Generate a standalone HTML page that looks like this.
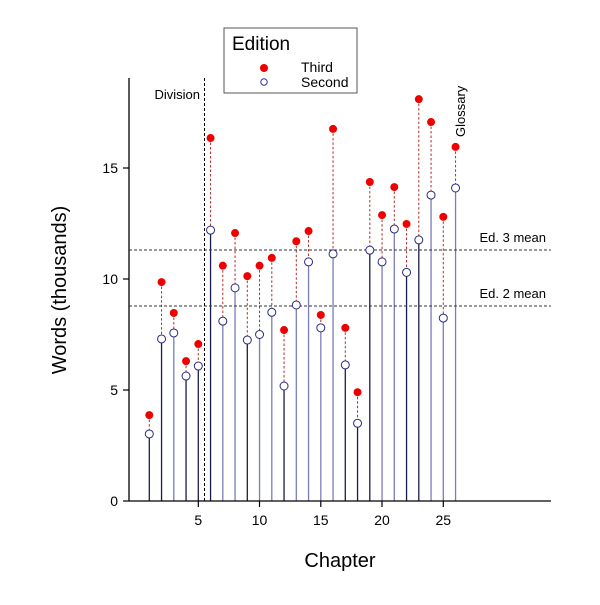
<!DOCTYPE html>
<html><head><style>body{margin:0;background:#fff}</style></head><body>
<svg width="600" height="600" xmlns="http://www.w3.org/2000/svg" font-family="Liberation Sans, Arial, sans-serif">
<rect width="600" height="600" fill="#fff"/>
<g id="stems"></g>
<line x1="129" y1="78" x2="129" y2="501" stroke="#000" stroke-width="1.3"/>
<line x1="129" y1="501" x2="551" y2="501" stroke="#000" stroke-width="1.3"/>
<g stroke="#000" stroke-width="1.2">
<line x1="123" y1="501" x2="129" y2="501"/><line x1="123" y1="390" x2="129" y2="390"/><line x1="123" y1="279" x2="129" y2="279"/><line x1="123" y1="168" x2="129" y2="168"/>
<line x1="198.3" y1="501" x2="198.3" y2="507"/><line x1="259.5" y1="501" x2="259.5" y2="507"/><line x1="320.8" y1="501" x2="320.8" y2="507"/><line x1="382" y1="501" x2="382" y2="507"/><line x1="443.3" y1="501" x2="443.3" y2="507"/>
</g>
<g font-size="14" text-anchor="end"><text x="118" y="506">0</text><text x="118" y="395">5</text><text x="118" y="284">10</text><text x="118" y="173">15</text></g>
<g font-size="14" text-anchor="middle"><text x="198.3" y="525">5</text><text x="259.5" y="525">10</text><text x="320.8" y="525">15</text><text x="382" y="525">20</text><text x="443.3" y="525">25</text></g>
<text x="340" y="567" font-size="20" text-anchor="middle">Chapter</text>
<text transform="translate(66,290) rotate(-90)" font-size="20" text-anchor="middle">Words (thousands)</text>
<line x1="129" y1="250" x2="551" y2="250" stroke="#333" stroke-dasharray="3,2" stroke-width="1"/>
<line x1="129" y1="306" x2="551" y2="306" stroke="#333" stroke-dasharray="3,2" stroke-width="1"/>
<text x="546" y="242" font-size="13" text-anchor="end">Ed. 3 mean</text>
<text x="546" y="298" font-size="13" text-anchor="end">Ed. 2 mean</text>
<line x1="204.5" y1="78" x2="204.5" y2="501" stroke="#000" stroke-dasharray="3,2" stroke-width="1"/>
<text x="200" y="99" font-size="13" text-anchor="end">Division</text>
<text transform="translate(465,137) rotate(-90)" font-size="13">Glossary</text>
<g id="pts"></g>
<rect x="224" y="28" width="133" height="65" fill="#fff" stroke="#555" stroke-width="1"/>
<text x="232" y="50" font-size="19">Edition</text>
<circle cx="264" cy="68" r="4" fill="#e00"/>
<text x="301" y="72" font-size="14">Third</text>
<circle cx="264" cy="82" r="3.2" fill="#fff" stroke="#339" stroke-width="1"/>
<text x="301" y="87" font-size="14">Second</text>
<script>
var T=[3.87,9.86,8.47,6.3,7.07,16.35,10.6,12.07,10.13,10.6,10.95,7.7,11.7,12.16,8.38,16.76,7.8,4.9,14.37,12.88,14.14,12.48,18.1,17.07,12.8,15.95];
var S=[3.02,7.3,7.57,5.63,6.08,12.2,8.1,9.6,7.25,7.5,8.5,5.18,8.83,10.77,7.8,11.13,6.13,3.5,11.3,10.77,12.25,10.3,11.76,13.78,8.24,14.1];
var dark=[1,2,4,5,6,9,12,17,18,19,22,23];
var ns="http://www.w3.org/2000/svg",st=document.getElementById('stems'),pt=document.getElementById('pts');
function el(t,a,p){var e=document.createElementNS(ns,t);for(var k in a)e.setAttribute(k,a[k]);p.appendChild(e);}
for(var i=0;i<26;i++){var c=i+1,x=137.05+12.25*c,yt=501-22.2*T[i],ys=501-22.2*S[i];
el('line',{x1:x,y1:501,x2:x,y2:ys,stroke:dark.indexOf(c)>=0?'#1c1c4a':'#7c7cb8','stroke-width':1.3},st);
el('line',{x1:x,y1:yt,x2:x,y2:ys,stroke:'#b03030','stroke-dasharray':'2.5,2','stroke-width':1},st);
el('circle',{cx:x,cy:ys,r:4,fill:'#fff',stroke:'#2a2a80','stroke-width':1},pt);
el('circle',{cx:x,cy:yt,r:4,fill:'#e00'},pt);}
</script>
</svg>
</body></html>
